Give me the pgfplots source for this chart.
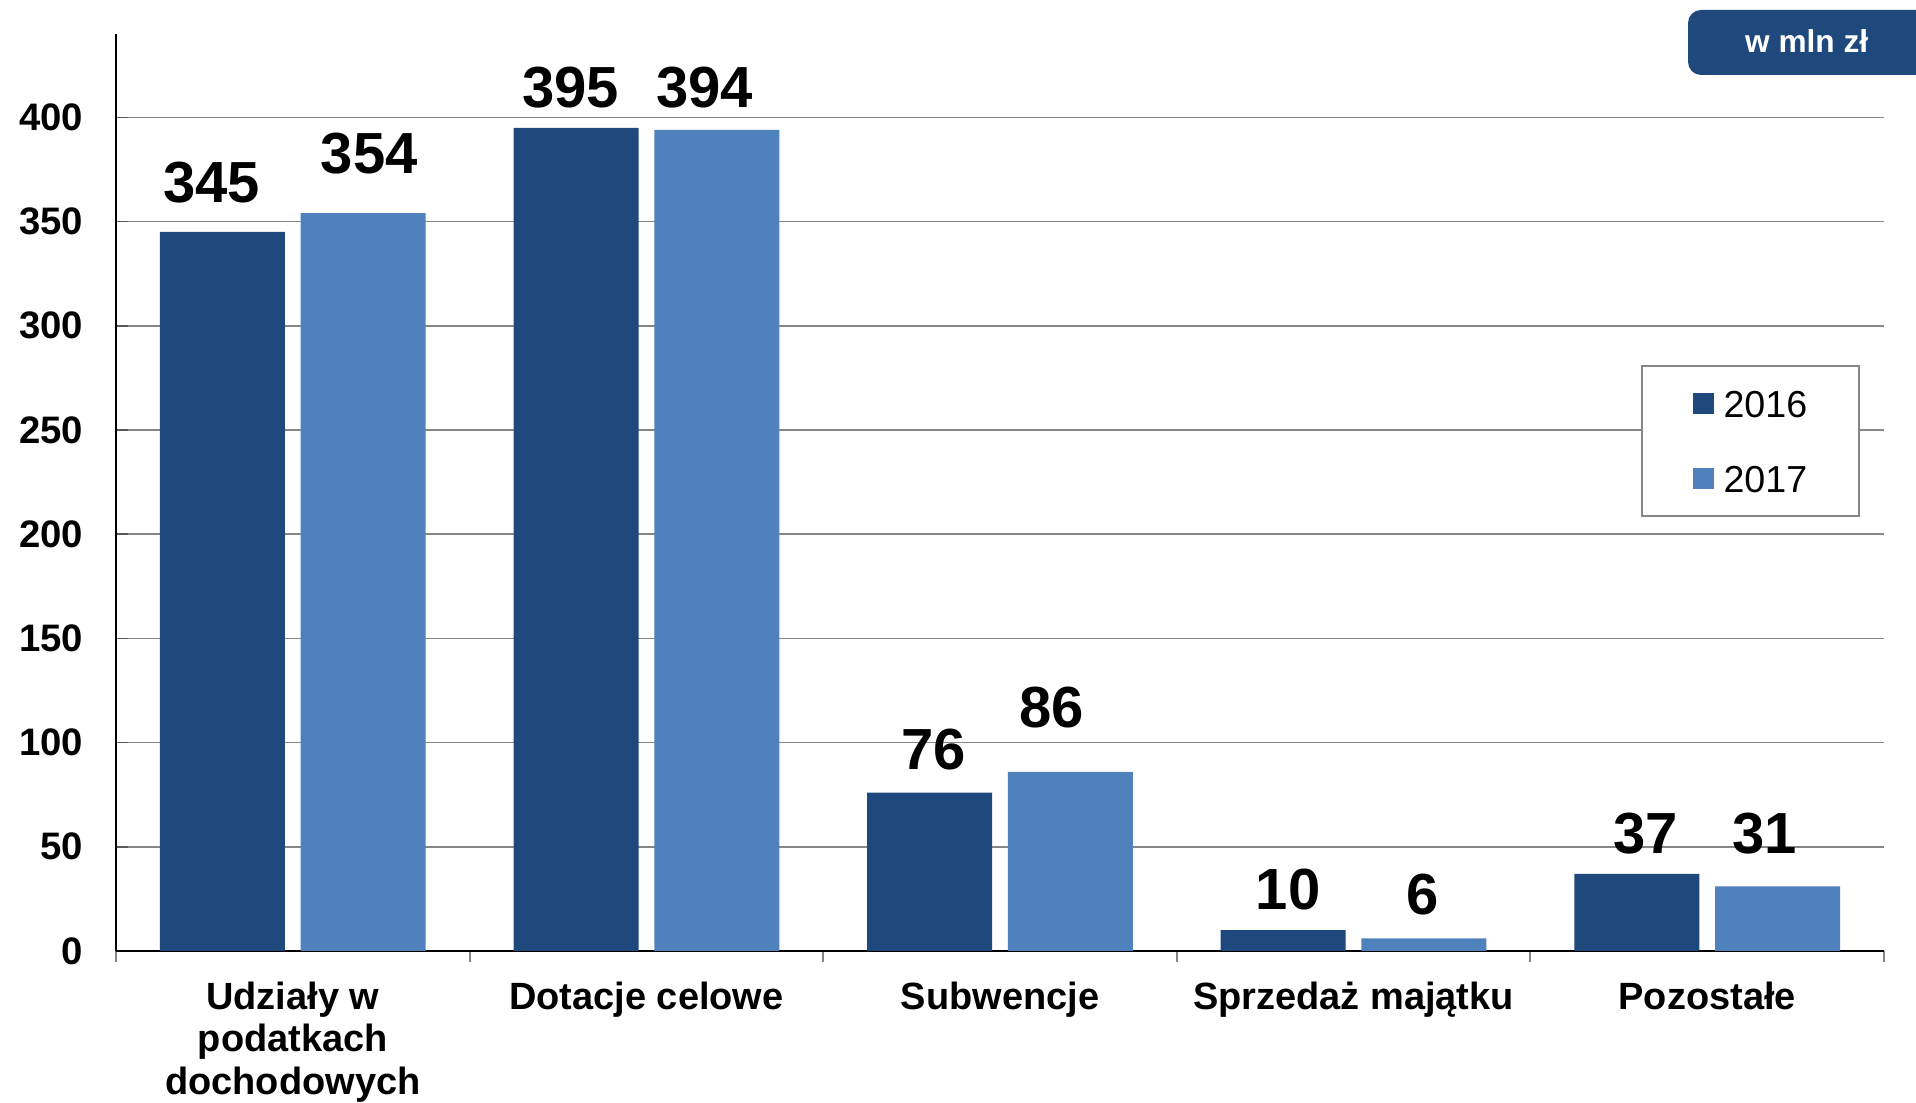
\documentclass[border=0pt]{standalone}
\usepackage{fontspec}
\setmainfont{Liberation Sans}
\usepackage{pgfplots}
\usepackage{pgfplotstable}
\pgfplotsset{compat=1.18}

\definecolor{ciemny}{RGB}{31,73,125}
\definecolor{jasny}{RGB}{79,129,189}
\definecolor{siatka}{RGB}{134,134,134}

% x y dx dy  (dx, dy: przesuniecie etykiety w px)
\pgfplotstableread{
x y dx dy
0 345 -11 28.4
1 395 -5.5 19.4
2 76 4 22.3
3 10 5 19
4 37 8.5 19
}\rokA
\pgfplotstableread{
x y dx dy
0 354 6 38.3
1 394 -12 20.7
2 86 -18.5 43.3
3 6 -1 23
4 31 -13 32
}\rokB

\begin{document}
\begin{tikzpicture}
\useasboundingbox (0,0) rectangle (19.16,11.03);
\begin{axis}[
    at={(1.16cm,1.52cm)}, anchor=south west,
    scale only axis,
    width=17.68cm, height=9.17cm,
    xmin=-0.5, xmax=4.5,
    ymin=0, ymax=440,
    clip=false,
    axis lines=left,
    axis line style={-, black, line width=0.6pt},
    ybar, bar width=0.3535,
    ytick={0,50,...,400},
    ymajorgrids,
    grid style={siatka, line width=0.45pt},
    ytick align=inside,
    major tick length=0.12cm,
    ytick style={black!65, line width=0.45pt},
    xtick={0,1,2,3,4},
    xticklabels={{Udziały w\\podatkach\\dochodowych},Dotacje celowe,Subwencje,Sprzedaż majątku,Pozostałe},
    major x tick style=transparent,
    minor xtick={-0.5,0.5,1.5,2.5,3.5,4.5},
    minor x tick style={siatka, line width=0.6pt},
    xtick align=outside,
    minor tick length=0.11cm,
    /pgf/number format/assume math mode=true,
    yticklabel style={font=\bfseries\fontsize{10.9}{12}\selectfont, inner sep=0pt, xshift=-0.32cm},
    xticklabel style={font=\bfseries\fontsize{10.8}{12.1}\selectfont, align=center, inner sep=0pt, anchor=north, yshift=-0.182cm},
    nodes near coords,
    visualization depends on={\thisrow{dx}\as\dx},
    visualization depends on={\thisrow{dy}\as\dy},
    nodes near coords style={font=\bfseries\fontsize{16.5}{18}\selectfont, black, anchor=south, inner sep=0pt, xshift={(\dx)*0.01cm}, yshift={(\dy)*0.01cm}},
    legend image code/.code={\fill[#1] (0cm,-0.105cm) rectangle (0.21cm,0.105cm);},
    legend style={at={(0.8624,0.639)}, anchor=north west, draw=siatka, line width=0.6pt, fill=white,
        inner xsep=0.515cm, inner ysep=0pt, row sep=0pt, column sep=0.093cm,
        font=\fontsize{10.7}{12}\selectfont,
        nodes={inner sep=0pt, text height=0.51cm, text depth=0.24cm},
        cells={anchor=west}},
]
\addplot[fill=ciemny, draw=none, bar shift=-0.199] table[x=x, y=y] {\rokA};
\addlegendentry{2016}
\addplot[fill=jasny, draw=none, bar shift=0.199] table[x=x, y=y] {\rokB};
\addlegendentry{2017}
\end{axis}
\fill[ciemny, rounded corners=0.13cm] (16.88,10.28) rectangle (19.6,10.93);
\node[anchor=base, text=white, font=\bfseries\fontsize{9}{10}\selectfont, inner sep=0pt] at (18.067,10.507) {w mln zł};
\end{tikzpicture}
\end{document}
